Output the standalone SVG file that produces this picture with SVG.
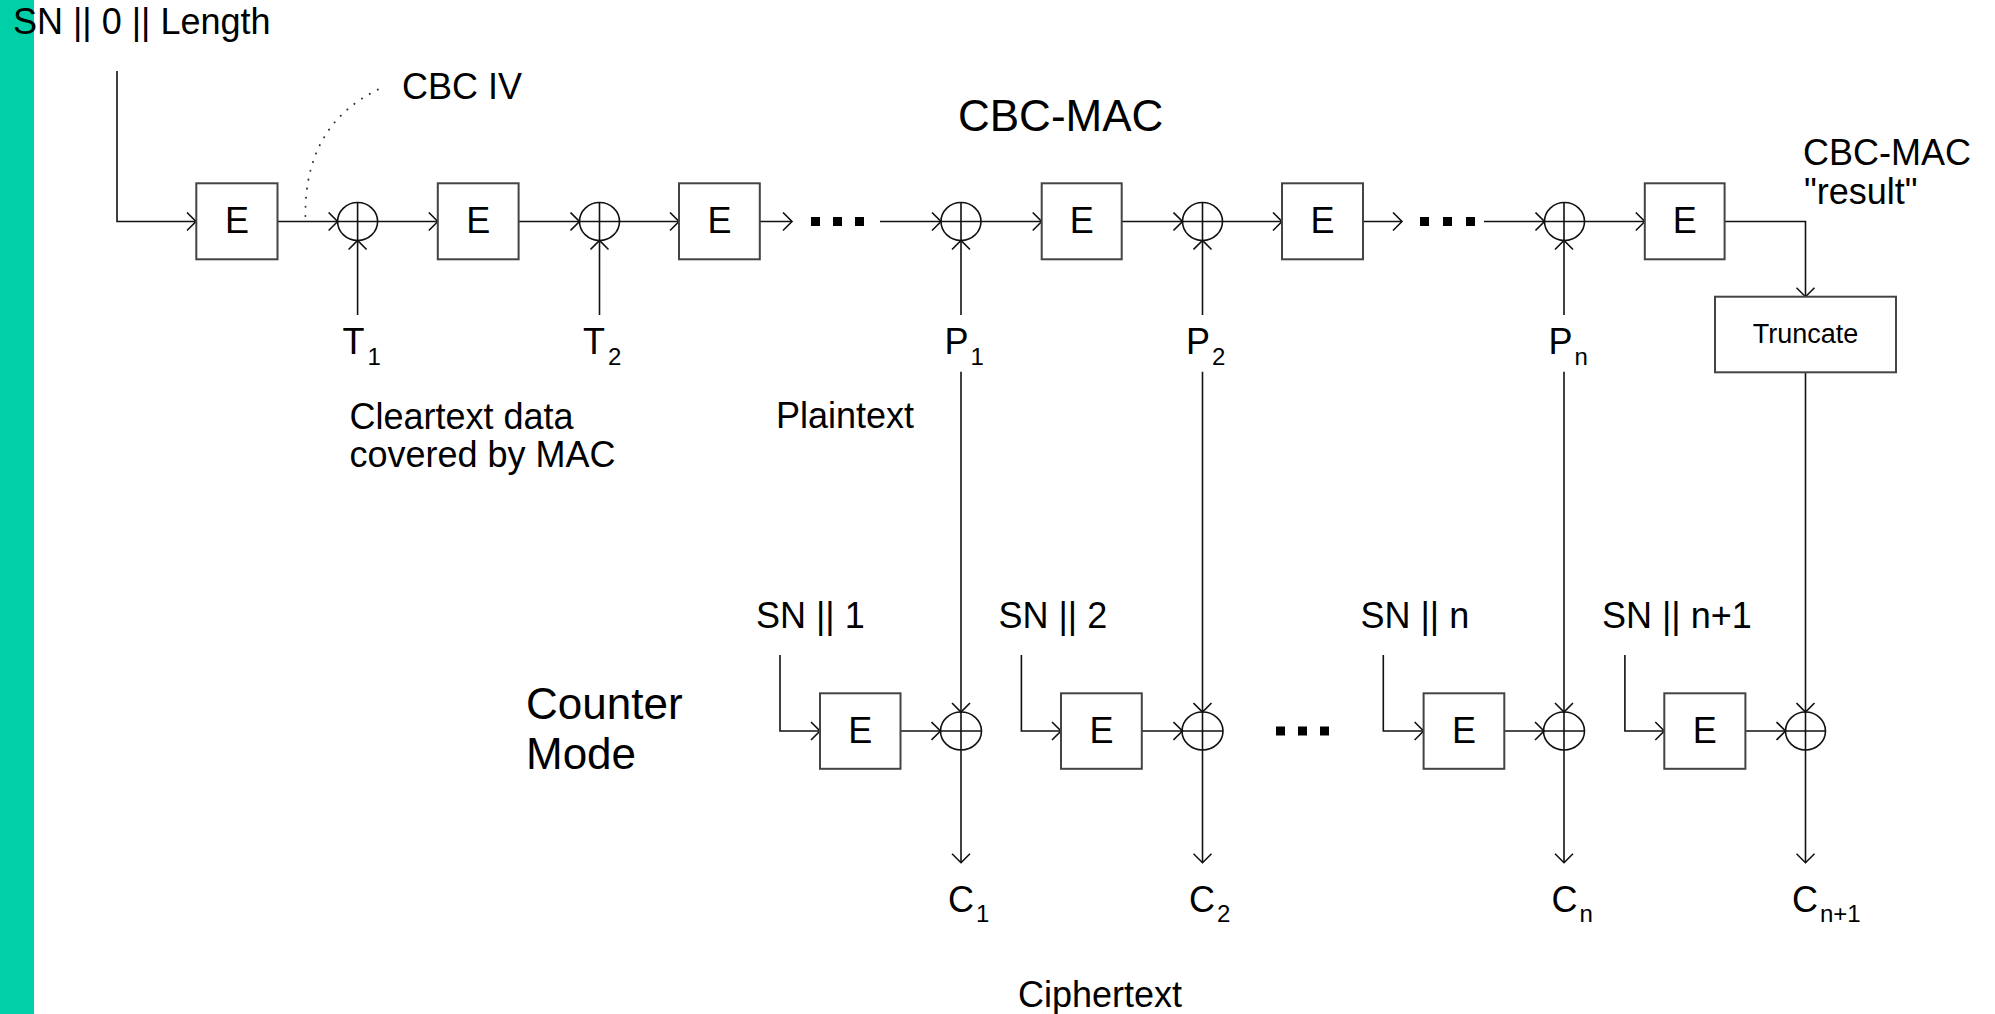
<svg xmlns="http://www.w3.org/2000/svg" width="1995" height="1014" viewBox="0 0 1995 1014">
<defs>
<style>
text{font-family:"Liberation Sans",Arial,Helvetica,sans-serif;fill:#000;}
.t{font-size:36px;}
.big{font-size:44px;}
.sm{font-size:27px;}
.sub{font-size:24px;}
.box{fill:#fff;stroke:#444;stroke-width:2;}
.ln{fill:none;stroke:#111;stroke-width:1.6;}
.xor{fill:none;stroke:#111;stroke-width:1.6;}
.dot{fill:#000;}
.e{font-size:36px;text-anchor:middle;}
</style>
<marker id="ah" viewBox="0 0 12 20" markerUnits="userSpaceOnUse" markerWidth="12" markerHeight="20" refX="10" refY="10" orient="auto">
<path d="M1,1 L10,10 L1,19" fill="none" stroke="#111" stroke-width="1.6"/>
</marker>
</defs>
<rect x="0" y="0" width="34" height="1014" fill="#00CFA8"/>

<g id="connectors">
<path class="ln" d="M117,71 V221.5 H196" marker-end="url(#ah)"/>
<path class="ln" d="M277.5,221.5 H337.6" marker-end="url(#ah)"/>
<path class="ln" d="M377.6,221.5 H437.8" marker-end="url(#ah)"/>
<path class="ln" d="M518.6,221.5 H579.5" marker-end="url(#ah)"/>
<path class="ln" d="M619.5,221.5 H679" marker-end="url(#ah)"/>
<path class="ln" d="M759.8,221.5 H792" marker-end="url(#ah)"/>
<path class="ln" d="M880,221.5 H941" marker-end="url(#ah)"/>
<path class="ln" d="M981,221.5 H1041.7" marker-end="url(#ah)"/>
<path class="ln" d="M1121.7,221.5 H1182.5" marker-end="url(#ah)"/>
<path class="ln" d="M1222.5,221.5 H1282" marker-end="url(#ah)"/>
<path class="ln" d="M1363,221.5 H1402" marker-end="url(#ah)"/>
<path class="ln" d="M1484,221.5 H1544.5" marker-end="url(#ah)"/>
<path class="ln" d="M1584.5,221.5 H1644.8" marker-end="url(#ah)"/>
<path class="ln" d="M1724.6,221.5 H1805.5 V296.7" marker-end="url(#ah)"/>
<path class="ln" d="M357.6,315 V240.5" marker-end="url(#ah)"/>
<path class="ln" d="M599.5,315 V240.5" marker-end="url(#ah)"/>
<path class="ln" d="M961,315 V240.5" marker-end="url(#ah)"/>
<path class="ln" d="M1202.5,315 V240.5" marker-end="url(#ah)"/>
<path class="ln" d="M1564,315 V240.5" marker-end="url(#ah)"/>
<path class="ln" d="M961,371.7 V712" marker-end="url(#ah)"/>
<path class="ln" d="M1202.5,371.7 V712" marker-end="url(#ah)"/>
<path class="ln" d="M1564,371.7 V712" marker-end="url(#ah)"/>
<path class="ln" d="M1805.5,372.3 V712" marker-end="url(#ah)"/>
<path class="ln" d="M961,750 V862.7" marker-end="url(#ah)"/>
<path class="ln" d="M1202.5,750 V862.7" marker-end="url(#ah)"/>
<path class="ln" d="M1564,750 V862.7" marker-end="url(#ah)"/>
<path class="ln" d="M1805.5,750 V862.7" marker-end="url(#ah)"/>
<path class="ln" d="M780,655 V731 H820" marker-end="url(#ah)"/>
<path class="ln" d="M1021.4,655 V731 H1061" marker-end="url(#ah)"/>
<path class="ln" d="M1383.3,655 V731 H1423.6" marker-end="url(#ah)"/>
<path class="ln" d="M1624.9,655 V731 H1664.3" marker-end="url(#ah)"/>
<path class="ln" d="M900.5,731 H940.5" marker-end="url(#ah)"/>
<path class="ln" d="M1141.8,731 H1182.5" marker-end="url(#ah)"/>
<path class="ln" d="M1504.3,731 H1544" marker-end="url(#ah)"/>
<path class="ln" d="M1745.4,731 H1785.5" marker-end="url(#ah)"/>
<path d="M305.4,216 C305,160 325,115 379,89" fill="none" stroke="#333" stroke-width="2" stroke-dasharray="0.1 9" stroke-linecap="round"/>
</g>

<g id="dots-top-1"><rect class="dot" x="811" y="217" width="9" height="9"/><rect class="dot" x="833" y="217" width="9" height="9"/><rect class="dot" x="855" y="217" width="9" height="9"/></g>
<g id="dots-top-2"><rect class="dot" x="1420" y="217" width="9" height="9"/><rect class="dot" x="1443" y="217" width="9" height="9"/><rect class="dot" x="1466" y="217" width="9" height="9"/></g>
<g id="dots-bottom"><rect class="dot" x="1276" y="726.5" width="9" height="9"/><rect class="dot" x="1298" y="726.5" width="9" height="9"/><rect class="dot" x="1320" y="726.5" width="9" height="9"/></g>

<g id="E1"><rect class="box" x="196.3" y="183.3" width="81.2" height="76"/><text class="e" x="237" y="233">E</text></g>
<g id="E2"><rect class="box" x="437.8" y="183.3" width="80.8" height="76"/><text class="e" x="478.2" y="233">E</text></g>
<g id="E3"><rect class="box" x="679" y="183.3" width="80.8" height="76"/><text class="e" x="719.4" y="233">E</text></g>
<g id="E4"><rect class="box" x="1041.7" y="183.3" width="80" height="76"/><text class="e" x="1081.7" y="233">E</text></g>
<g id="E5"><rect class="box" x="1282" y="183.3" width="81" height="76"/><text class="e" x="1322.5" y="233">E</text></g>
<g id="E6"><rect class="box" x="1644.8" y="183.3" width="79.8" height="76"/><text class="e" x="1684.7" y="233">E</text></g>

<g id="X1" class="xor"><ellipse cx="357.6" cy="221.5" rx="20" ry="19"/><path d="M337.6,221.5 H377.6 M357.6,202.5 V240.5"/></g>
<g id="X2" class="xor"><ellipse cx="599.5" cy="221.5" rx="20" ry="19"/><path d="M579.5,221.5 H619.5 M599.5,202.5 V240.5"/></g>
<g id="X3" class="xor"><ellipse cx="961" cy="221.5" rx="20" ry="19"/><path d="M941,221.5 H981 M961,202.5 V240.5"/></g>
<g id="X4" class="xor"><ellipse cx="1202.5" cy="221.5" rx="20" ry="19"/><path d="M1182.5,221.5 H1222.5 M1202.5,202.5 V240.5"/></g>
<g id="X5" class="xor"><ellipse cx="1564.5" cy="221.5" rx="20" ry="19"/><path d="M1544.5,221.5 H1584.5 M1564,202.5 V240.5"/></g>

<g id="Trunc"><rect class="box" x="1715" y="296.7" width="181" height="75.6"/><text class="sm" x="1805.5" y="342.5" text-anchor="middle">Truncate</text></g>

<g id="CE1"><rect class="box" x="820" y="693.3" width="80.5" height="75.5"/><text class="e" x="860.2" y="743">E</text></g>
<g id="CE2"><rect class="box" x="1061" y="693.3" width="80.8" height="75.5"/><text class="e" x="1101.4" y="743">E</text></g>
<g id="CE3"><rect class="box" x="1423.6" y="693.3" width="80.7" height="75.5"/><text class="e" x="1464" y="743">E</text></g>
<g id="CE4"><rect class="box" x="1664.3" y="693.3" width="81.1" height="75.5"/><text class="e" x="1704.8" y="743">E</text></g>

<g id="CX1" class="xor"><ellipse cx="961" cy="731" rx="20.5" ry="19"/><path d="M940.5,731 H981.5 M961,712 V750"/></g>
<g id="CX2" class="xor"><ellipse cx="1202.5" cy="731" rx="20.5" ry="19"/><path d="M1182,731 H1223 M1202.5,712 V750"/></g>
<g id="CX3" class="xor"><ellipse cx="1564" cy="731" rx="20.5" ry="19"/><path d="M1543.5,731 H1584.5 M1564,712 V750"/></g>
<g id="CX4" class="xor"><ellipse cx="1805.5" cy="731" rx="20" ry="19"/><path d="M1785.5,731 H1825.5 M1805.5,712 V750"/></g>

<g id="labels">
<text class="t" x="13" y="34">SN || 0 || Length</text>
<text class="t" x="402" y="99">CBC IV</text>
<text class="big" x="958" y="131">CBC-MAC</text>
<text class="t" x="1803" y="165">CBC-MAC</text>
<text class="t" x="1804" y="204">"result"</text>
<text class="t" x="342.5" y="354">T<tspan class="sub" dx="3" dy="11">1</tspan></text>
<text class="t" x="583" y="354">T<tspan class="sub" dx="3" dy="11">2</tspan></text>
<text class="t" x="944.5" y="354">P<tspan class="sub" dx="2" dy="11">1</tspan></text>
<text class="t" x="1186" y="354">P<tspan class="sub" dx="2" dy="11">2</tspan></text>
<text class="t" x="1548.5" y="354">P<tspan class="sub" dx="2" dy="11">n</tspan></text>
<text class="t" x="349.5" y="429">Cleartext data</text>
<text class="t" x="349.5" y="467">covered by MAC</text>
<text class="t" x="776" y="428">Plaintext</text>
<text class="t" x="756" y="628">SN || 1</text>
<text class="t" x="998.5" y="628">SN || 2</text>
<text class="t" x="1360.5" y="628">SN || n</text>
<text class="t" x="1602" y="628">SN || n+1</text>
<text class="big" x="526" y="719">Counter</text>
<text class="big" x="526" y="769">Mode</text>
<text class="t" x="948" y="912">C<tspan class="sub" dx="2" dy="10">1</tspan></text>
<text class="t" x="1189" y="912">C<tspan class="sub" dx="2" dy="10">2</tspan></text>
<text class="t" x="1551.5" y="912">C<tspan class="sub" dx="2" dy="10">n</tspan></text>
<text class="t" x="1792" y="912">C<tspan class="sub" dx="2" dy="10">n+1</tspan></text>
<text class="t" x="1018" y="1007">Ciphertext</text>
</g>
</svg>
